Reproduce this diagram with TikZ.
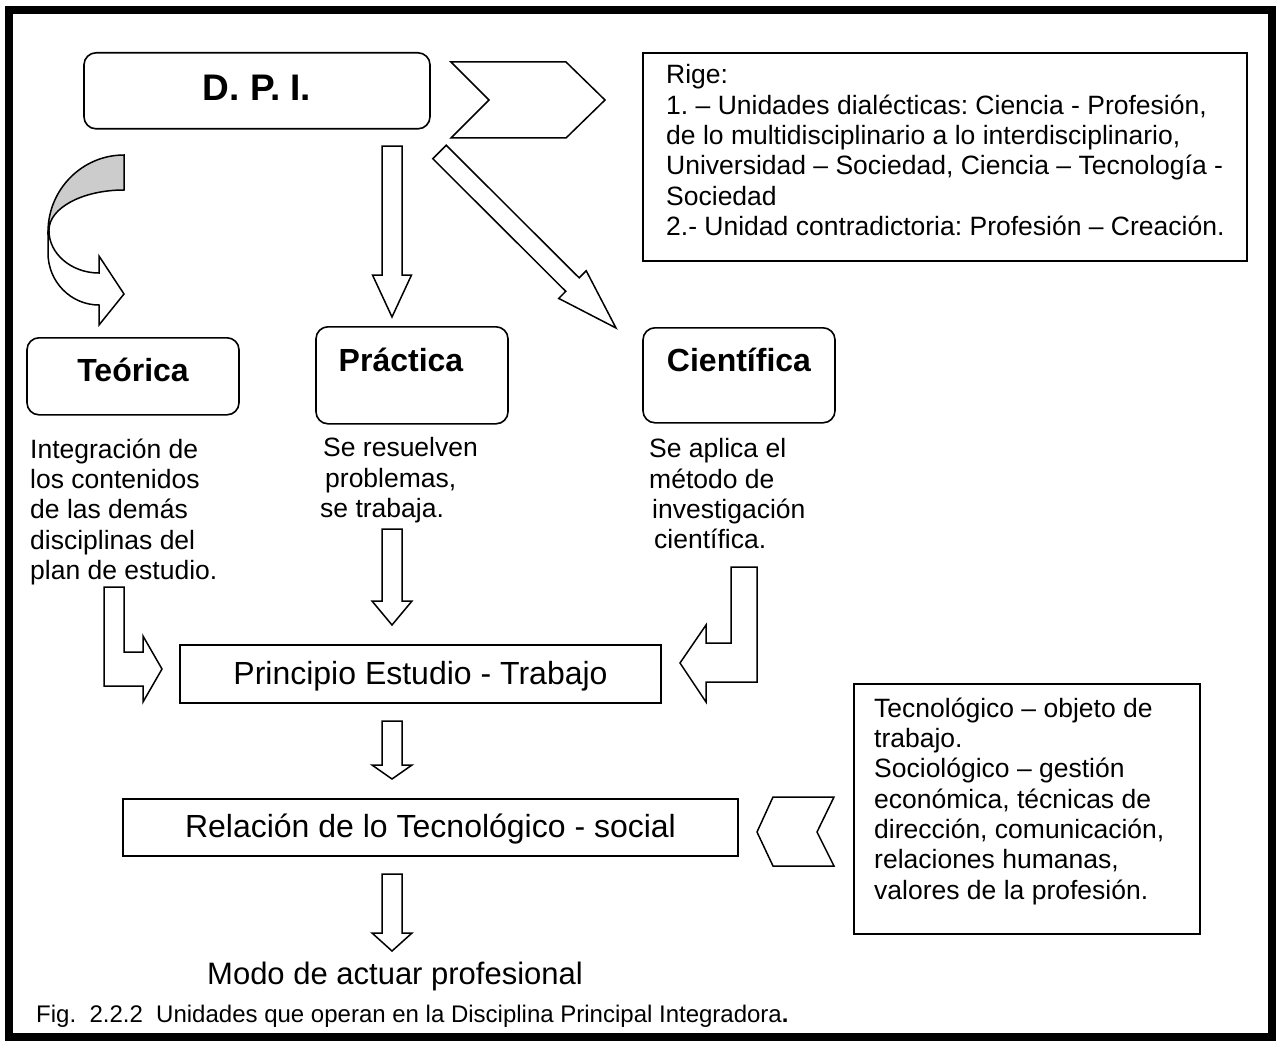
\documentclass[tikz,border=0pt]{standalone}
\usepackage{fontspec}
\setmainfont{Liberation Sans}
\usepackage{tikz}
\usetikzlibrary{calc, positioning}
\frenchspacing

\newcommand{\titlesize}{\fontsize{37pt}{42pt}\selectfont}
\newcommand{\boxsize}{\fontsize{32pt}{36pt}\selectfont}
\newcommand{\modosize}{\fontsize{31pt}{36pt}\selectfont}
\newcommand{\bodysize}{\fontsize{26.5pt}{30.3pt}\selectfont}
\newcommand{\capsize}{\fontsize{24pt}{28pt}\selectfont}

% block arrow: tail, tip, half shaft, half head, head length
\newcommand{\blockarrow}[5]{%
  \coordinate (hb) at ($(#2)!#5!(#1)$);
  \draw[blockline] ($(#1)!#3!90:(#2)$) -- ($(hb)!#3!90:(#2)$) -- ($(hb)!#4!90:(#2)$) -- (#2)
    -- ($(hb)!#4!-90:(#2)$) -- ($(hb)!#3!-90:(#2)$) -- ($(#1)!#3!-90:(#2)$) -- cycle;
}

\tikzset{
  roundbox/.style={
    rectangle, rounded corners=12pt,
    draw=black, line width=1.6pt,
    inner xsep=0pt, inner ysep=0pt,
    font=\boxsize\bfseries
  },
  flatbox/.style={
    rectangle, draw=black, line width=1.6pt,
    inner xsep=0pt, inner ysep=0pt,
    font=\boxsize
  },
  notebox/.style={rectangle, draw=black, line width=1.6pt, inner sep=0pt},
  notetext/.style={anchor=north west, inner sep=0pt, align=left, font=\bodysize},
  blockline/.style={draw=black, fill=white, line width=1.5pt, line join=miter},
}

\begin{document}
\begin{tikzpicture}[x=1pt, y=-1pt]
\useasboundingbox (0,0) rectangle (1279,1046);

% ── Frame ─────────────────────────────────────────────────
\draw[line width=8.5pt] (9,10) rectangle (1272,1037);

% ── Top row ───────────────────────────────────────────────
\node[roundbox, anchor=north, minimum width=346pt, text height=48pt, text depth=28pt,
      font=\titlesize\bfseries] (dpi) at (257,52) {D. P. I.};
\node[notebox, anchor=north west, minimum width=604pt, minimum height=208pt] (rige) at (642,52) {};
\node[notetext] (rigetxt) at ([xshift=24pt, yshift=-12.5pt]rige.north west)
  {Rige:\\
   1. – Unidades dialécticas: Ciencia - Profesión,\\
   de lo multidisciplinario a lo interdisciplinario,\\
   Universidad – Sociedad, Ciencia – Tecnología -\\
   Sociedad\\
   2.- Unidad contradictoria: Profesión – Creación.};

% ── Three kinds ───────────────────────────────────────────
\node[roundbox, anchor=north, minimum width=212pt, text height=44pt, text depth=33pt] (teorica) at (133,337) {Teórica};
\node[roundbox, anchor=north, minimum width=192pt, text height=45pt, text depth=52pt] (practica) at (412,326) {Práctica\hspace*{22pt}};
\node[roundbox, anchor=north, minimum width=192pt, text height=44pt, text depth=51pt] (cientifica) at (739,327) {Científica};

\node[notetext] (teotxt) at (30,438.5)
  {Integración de\\ los contenidos\\ de las demás\\ disciplinas del\\ plan de estudio.};
\node[notetext] (pratxt) at (320,437.5)
  {\hspace*{3pt}Se resuelven\\ \hspace*{5pt}problemas,\\ se trabaja.};
\node[notetext] (cietxt) at (649,438.5)
  {Se aplica el\\ método de\\ \hspace*{3pt}investigación\\ \hspace*{5pt}científica.};

% ── Center column ─────────────────────────────────────────
\node[flatbox, anchor=north, minimum width=481pt, text height=40pt, text depth=18pt] (principio) at (420.5,644) {Principio Estudio - Trabajo};
\node[flatbox, anchor=north, minimum width=615pt, text height=39pt, text depth=18pt] (relacion) at (430.5,798) {Relación de lo Tecnológico - social};
\node[notebox, anchor=north west, minimum width=346pt, minimum height=250pt] (tecno) at (853,683) {};
\node[notetext] (tecnotxt) at ([xshift=21pt, yshift=-14.5pt]tecno.north west)
  {Tecnológico – objeto de\\
   trabajo.\\
   Sociológico – gestión\\
   económica, técnicas de\\
   dirección, comunicación,\\
   relaciones humanas,\\
   valores de la profesión.};

\node[anchor=base west, inner sep=0pt, font=\modosize] (modo) at (207,984) {Modo de actuar profesional};
\node[anchor=base west, inner sep=0pt, font=\capsize] (fig) at (36,1022)
  {Fig.\ \ 2.2.2\ \ Unidades que operan en la Disciplina Principal Integradora\textbf{.}};

% ── Block arrows ──────────────────────────────────────────
\coordinate (a1t) at (392,146);   \coordinate (a1e) at (392,317);
\coordinate (a2t) at (392,529);   \coordinate (a2e) at (392,625);
\coordinate (a3t) at (392,721);   \coordinate (a3e) at (392,779);
\coordinate (a4t) at (392,874);   \coordinate (a4e) at (392,951);
\coordinate (d1t) at (439.5,152); \coordinate (d1e) at (616,328);

\blockarrow{a1t}{a1e}{10pt}{19.5pt}{42pt}
\blockarrow{a2t}{a2e}{10pt}{20pt}{24pt}
\blockarrow{a3t}{a3e}{10pt}{20pt}{14pt}
\blockarrow{a4t}{a4e}{10pt}{20pt}{18pt}
\blockarrow{d1t}{d1e}{9.5pt}{19.5pt}{61.5pt}

% ── Chevrons ──────────────────────────────────────────────
\draw[blockline] (451,62) -- (566,62) -- (605,100) -- (566,138) -- (451,138) -- (489,100) -- cycle;
\draw[blockline] (757,832) -- (773,797) -- (834,797) -- (817,832) -- (834,866) -- (773,866) -- cycle;

% ── Bent arrows into Principio ────────────────────────────
\draw[blockline] (104,587) -- (124,587) -- (124,652) -- (143,652) -- (143,636) -- (162,669)
  -- (143,702) -- (143,686) -- (104,686) -- cycle;
\draw[blockline] (731,567) -- (757,567) -- (757,682) -- (706,682) -- (706,702) -- (680,663)
  -- (706,625) -- (706,643) -- (731,643) -- cycle;

% ── Curved arrow to Teórica ───────────────────────────────
\draw[blockline, fill=black!20] (124,155) .. controls (82,155) and (48,189.5) .. (48,232)
  -- (49,230) .. controls (49,208) and (82.6,190) .. (124,190) -- cycle;
\draw[blockline] (48,231) -- (48,253) .. controls (48,281.7) and (70.8,305) .. (99,305)
  -- (99,325) -- (124,294) -- (99,256) -- (99,273)
  .. controls (71.4,273) and (49,253.7) .. (49,231) -- cycle;

\end{tikzpicture}
\end{document}
